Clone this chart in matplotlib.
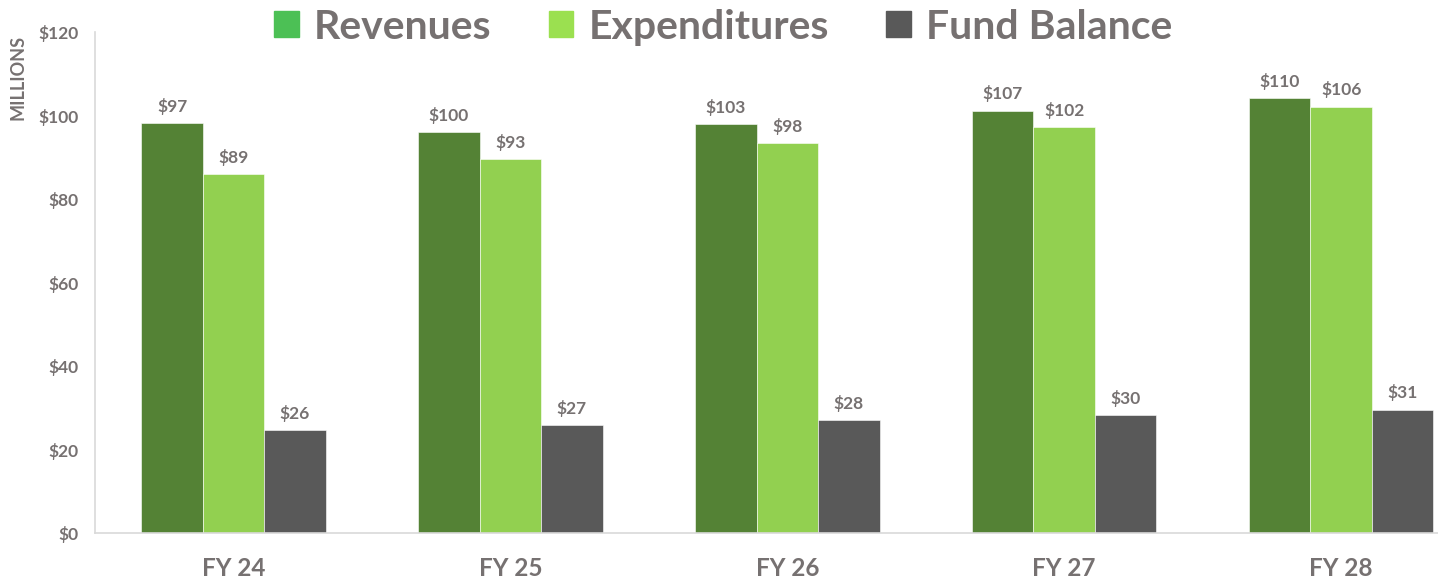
import matplotlib.pyplot as plt
import numpy as np
from matplotlib.patches import Patch

# data (bar heights, $ millions) and the printed labels
years = ['FY 24', 'FY 25', 'FY 26', 'FY 27', 'FY 28']
revenues = [98.2, 96.0, 98.0, 101.2, 104.2]
expenditures = [85.9, 89.6, 93.4, 97.2, 102.1]
fund_balance = [24.7, 25.9, 27.1, 28.3, 29.6]
revenue_labels = ['$97', '$100', '$103', '$107', '$110']
expenditure_labels = ['$89', '$93', '$98', '$102', '$106']
fund_labels = ['$26', '$27', '$28', '$30', '$31']
yticks = [0, 20, 40, 60, 80, 100, 120]

plt.rcParams['font.family'] = ['Lato', 'DejaVu Sans']
gray_text = '#767171'

fig = plt.figure(figsize=(14.38, 5.78), dpi=100)
ax = fig.add_axes([0.0661, 0.0773, 0.9628, 0.8673])

x = np.arange(len(years))
w = 0.222
series = [
    (revenues, revenue_labels, '#548235'),
    (expenditures, expenditure_labels, '#92D050'),
    (fund_balance, fund_labels, '#595959'),
]
for i, (vals, labels, color) in enumerate(series):
    bars = ax.bar(x + (i - 1) * w, vals, w, color=color, edgecolor='white', linewidth=0.4)
    ax.bar_label(bars, labels=labels, padding=6, fontsize=12.5, fontweight='bold', color=gray_text)

ax.set_xlim(-0.5, len(years) - 0.5)
ax.set_ylim(0, 120)
ax.set_yticks(yticks)
ax.set_yticklabels(['$%d' % v for v in yticks])
ax.set_xticks(x)
ax.set_xticklabels(years)
ax.tick_params(axis='y', length=0, pad=12, labelsize=12.5, labelcolor=gray_text)
ax.tick_params(axis='x', length=0, pad=17, labelsize=17.5, labelcolor=gray_text)
for lbl in ax.get_xticklabels() + ax.get_yticklabels():
    lbl.set_fontweight('bold')

for side in ['top', 'right']:
    ax.spines[side].set_visible(False)
for side in ['left', 'bottom']:
    ax.spines[side].set_color('#D9D9D9')
    ax.spines[side].set_linewidth(1.2)

fig.text(0.0125, 0.866, 'MILLIONS', rotation=90, ha='center', va='center',
         fontsize=13, fontweight='bold', color=gray_text)

handles = [Patch(color='#4CC055'), Patch(color='#9BE050'), Patch(color='#595959')]
leg = fig.legend(handles, ['Revenues', 'Expenditures', 'Fund Balance'],
                 loc='center', bbox_to_anchor=(0.503, 0.953), ncol=3, frameon=False,
                 prop={'size': 29.5, 'weight': 'bold'}, handlelength=0.6, handleheight=0.6,
                 handletextpad=0.37, columnspacing=1.4, borderpad=0)
for t in leg.get_texts():
    t.set_color(gray_text)

fig.savefig('out.png', dpi=100)
